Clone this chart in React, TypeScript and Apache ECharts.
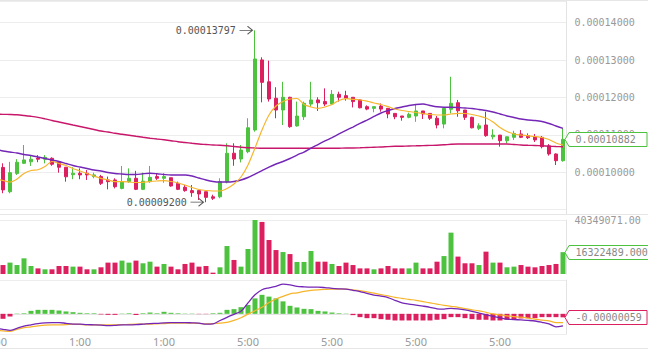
import { useEffect, useRef } from 'react';
import * as echarts from 'echarts';

// prices are in units of 1e-8
const UNIT = 1e-8;
const xLabels = ['5:00', '1:00', '1:00', '5:00', '5:00', '5:00', '5:00'];

const opens = [10050, 10130, 9480, 9970, 10240, 10280, 10380, 10350, 10375, 10265, 10135, 9935, 9975, 9975, 9885, 9885, 9795, 9795, 9570, 9750, 9840, 9545, 9750, 9885, 9840, 9855, 9705, 9600, 9510, 9510, 9480, 9345, 9345, 9750, 10510, 10355, 10550, 11130, 13005, 12420, 11980, 11665, 12005, 11240, 11485, 11825, 11935, 11890, 11825, 12085, 12050, 12005, 11935, 11755, 11710, 11770, 11710, 11575, 11505, 11470, 11505, 11640, 11575, 11445, 11290, 11685, 11860, 11665, 11470, 11175, 11265, 10950, 10995, 10845, 10935, 11025, 10980, 10950, 10935, 10710, 10490, 10310];
const closes = [10130, 9530, 9990, 10270, 10330, 10350, 10350, 10400, 10215, 10135, 9880, 9975, 9930, 9930, 9930, 9705, 9750, 9615, 9750, 9840, 9545, 9765, 9865, 9840, 9885, 9635, 9545, 9510, 9455, 9420, 9330, 9305, 9750, 10510, 10355, 10595, 11190, 13030, 12405, 11960, 11665, 12005, 11220, 11505, 11845, 11935, 11860, 11825, 12085, 12005, 11980, 11890, 11725, 11690, 11755, 11690, 11560, 11485, 11470, 11550, 11640, 11560, 11445, 11265, 11710, 11845, 11645, 11470, 11190, 11245, 10980, 10995, 10845, 10950, 11040, 10935, 10925, 10865, 10685, 10490, 10310, 10882];
const lows = [10000, 9440, 9440, 9930, 10220, 10170, 10270, 10240, 10175, 9990, 9750, 9815, 9815, 9795, 9840, 9660, 9545, 9570, 9545, 9720, 9525, 9525, 9720, 9795, 9720, 9615, 9525, 9480, 9345, 9260, 9200, 9260, 9305, 9705, 10175, 10265, 10510, 11085, 11870, 11890, 11445, 11265, 11190, 11220, 11400, 11755, 11640, 11770, 11800, 11890, 11915, 11735, 11710, 11660, 11605, 11620, 11445, 11420, 11380, 11445, 11350, 11425, 11400, 11175, 11175, 11575, 11485, 11400, 11175, 11130, 10950, 10880, 10685, 10775, 10865, 10915, 10890, 10810, 10640, 10445, 10195, 10285];
const highs = [10180, 10240, 10280, 10350, 10730, 10435, 10460, 10460, 10400, 10285, 10135, 10135, 10105, 10060, 9990, 9930, 9885, 9840, 10170, 10105, 10040, 9990, 10170, 9975, 9975, 9855, 9750, 9660, 9660, 9510, 9480, 9400, 9840, 10775, 10775, 10730, 11445, 13797, 13075, 12985, 12275, 12420, 12020, 11890, 11890, 12420, 12005, 12245, 12200, 12155, 12180, 12005, 11950, 11790, 11755, 11840, 11710, 11575, 11505, 11595, 11800, 11640, 11575, 11505, 11740, 12555, 11935, 11665, 11485, 11310, 11620, 11150, 10995, 10950, 11110, 11130, 11040, 11025, 10970, 10755, 10505, 11175];

const maShort = [9820, 9780, 9740, 9820, 9968, 10048, 10067, 10155, 10289, 10235, 10181, 10101, 10035, 9968, 9901, 9839, 9794, 9748, 9748, 9740, 9727, 9733, 9754, 9767, 9775, 9754, 9714, 9660, 9593, 9540, 9513, 9500, 9500, 9567, 9687, 9874, 10195, 10650, 11131, 11532, 11773, 11893, 11960, 11973, 11813, 11746, 11711, 11746, 11813, 11920, 11968, 11952, 11933, 11901, 11853, 11813, 11754, 11692, 11652, 11625, 11599, 11572, 11545, 11532, 11532, 11559, 11577, 11572, 11545, 11505, 11452, 11345, 11198, 11091, 11024, 10997, 10978, 10957, 10930, 10877, 10783, 10730];
const maMid = [10623, 10569, 10542, 10516, 10476, 10449, 10409, 10369, 10329, 10289, 10235, 10181, 10141, 10101, 10061, 10034, 9994, 9968, 9954, 9941, 9941, 9960, 9973, 9960, 9941, 9928, 9928, 9928, 9901, 9847, 9794, 9754, 9740, 9740, 9754, 9794, 9861, 9954, 10048, 10141, 10222, 10289, 10369, 10462, 10542, 10649, 10743, 10837, 10930, 11024, 11118, 11211, 11305, 11398, 11492, 11585, 11652, 11706, 11746, 11786, 11813, 11826, 11786, 11751, 11738, 11738, 11732, 11719, 11706, 11679, 11652, 11612, 11559, 11505, 11465, 11425, 11398, 11385, 11358, 11305, 11238, 11176];
const maLong = [11553, 11550, 11545, 11537, 11519, 11497, 11470, 11430, 11385, 11345, 11305, 11264, 11224, 11184, 11144, 11104, 11077, 11043, 11016, 10989, 10962, 10936, 10912, 10890, 10869, 10845, 10818, 10797, 10775, 10756, 10743, 10730, 10722, 10708, 10690, 10671, 10658, 10650, 10642, 10642, 10642, 10642, 10642, 10642, 10642, 10642, 10642, 10642, 10642, 10644, 10650, 10650, 10655, 10663, 10671, 10676, 10687, 10695, 10698, 10703, 10708, 10714, 10719, 10724, 10735, 10749, 10756, 10756, 10756, 10756, 10756, 10756, 10756, 10756, 10743, 10730, 10722, 10716, 10708, 10698, 10690, 10684];

const volumes = [5000000, 6700000, 8500000, 6700000, 11700000, 6000000, 4200000, 3500000, 3500000, 6000000, 6000000, 5500000, 5500000, 3500000, 3500000, 5000000, 8500000, 8500000, 10000000, 8500000, 10000000, 8000000, 9200000, 5500000, 7500000, 5500000, 3500000, 7500000, 8500000, 5500000, 6000000, 1000000, 5000000, 20900000, 10500000, 5500000, 18700000, 40349071, 38900000, 25400000, 17900000, 16400000, 14900000, 9000000, 9000000, 17200000, 9200000, 9200000, 7500000, 6000000, 8500000, 6700000, 4200000, 4200000, 3500000, 4200000, 6000000, 4200000, 4200000, 4200000, 8500000, 4200000, 4200000, 9200000, 13400000, 30900000, 13000000, 8000000, 8000000, 6700000, 16700000, 8500000, 8500000, 5000000, 5500000, 6700000, 5500000, 5000000, 6000000, 6700000, 7500000, 16322489];

const macdDif = [-244, -261, -278, -244, -207, -185, -165, -152, -147, -147, -160, -172, -174, -182, -185, -189, -199, -194, -185, -185, -182, -174, -165, -160, -152, -148, -147, -147, -152, -157, -174, -169, -113, -59, -8, 42, 185, 320, 405, 438, 464, 500, 489, 464, 455, 450, 450, 442, 430, 422, 416, 396, 376, 346, 317, 298, 275, 228, 185, 164, 148, 130, 110, 84, 79, 93, 84, 67, 42, 13, -17, -42, -67, -89, -98, -101, -110, -121, -143, -169, -219, -202];
const macdDea = [-275, -287, -298, -261, -233, -219, -202, -189, -185, -185, -182, -174, -179, -185, -185, -185, -185, -185, -182, -177, -174, -174, -174, -169, -165, -157, -157, -157, -157, -160, -169, -165, -157, -143, -110, -67, -5, 51, 112, 190, 250, 295, 337, 354, 379, 396, 405, 411, 416, 416, 416, 405, 391, 371, 349, 324, 303, 278, 261, 243, 228, 206, 185, 164, 143, 126, 110, 88, 67, 51, 25, 0, -17, -34, -46, -56, -72, -89, -106, -118, -147, -147];
const macdHist = [-60, -84, -45, 5, 10, 50, 67, 67, 67, 56, 40, 28, 17, 10, 10, -10, -17, -17, 5, 10, -20, 10, 22, 10, 34, 17, 10, 5, 5, -5, -5, 10, 17, 67, 79, 112, 150, 260, 320, 290, 260, 210, 135, 107, 84, 79, 50, 40, 22, 10, 5, -22, -56, -73, -73, -90, -100, -112, -112, -112, -112, -112, -112, -100, -90, -56, -56, -73, -90, -100, -100, -112, -112, -100, -90, -78, -73, -73, -56, -56, -56, -59];

const GREEN = '#4cc23f';
const RED = '#dc1f5f';
const ORANGE = '#f7b52c';
const PURPLE = '#7426b6';
const CRIMSON = '#c8176a';
const GRIDC = '#ededed';
const AXISC = '#e3e3e3';
const MONO = '"DejaVu Sans Mono", monospace';
const SANS = '"Noto Sans", sans-serif';

const W = 648;
const GL = -7.5;
const GR = 81.5;
const AXIS_X = W - GR;

export default function App() {
  const ref = useRef<HTMLDivElement>(null);
  useEffect(() => {
    const el = ref.current;
    if (!el) return;
    const chart = echarts.init(el, null, { renderer: 'svg' });
    const n = opens.length;
    const categories = opens.map((_, i) => (i % 12 === 0 ? xLabels[i / 12] : 'c' + i));
    const candle = opens.map((o, i) => [o * UNIT, closes[i] * UNIT, lows[i] * UNIT, highs[i] * UNIT]);
    const isUp = (i: number) => closes[i] >= opens[i];
    const volData = volumes.map((v, i) => ({ value: v, itemStyle: { color: isUp(i) ? GREEN : RED } }));
    const histData = macdHist.map((v) => ({ value: v * UNIT, itemStyle: { color: v >= 0 ? GREEN : RED } }));
    const volMax = Math.max(...volumes);
    const yMin = 0.00008885;
    const yMax = 0.0001458;
    const mMin = -0.0000034;
    const mMax = 0.0000057;

    const hiddenX = { show: false };
    const xBase = (gi: number) => ({
      type: 'category',
      gridIndex: gi,
      data: categories,
      boundaryGap: true,
      axisTick: { show: false },
      splitLine: { show: false },
    });
    const line = (data: number[], color: string, width: number, xi: number) => ({
      type: 'line',
      xAxisIndex: xi,
      yAxisIndex: xi,
      data: data.map((v) => v * UNIT),
      symbol: 'none',
      smooth: 0.3,
      lineStyle: { color, width },
      silent: true,
    });
    const gridBase = { left: GL, right: GR, outerBoundsMode: 'none', containLabel: false };

    chart.setOption({
      animation: false,
      grid: [
        { ...gridBase, top: 1, height: 213 },
        { ...gridBase, top: 220, height: 54 },
        { ...gridBase, top: 280, height: 54 },
      ],
      xAxis: [
        { ...xBase(0), axisLine: hiddenX, axisLabel: hiddenX },
        { ...xBase(1), axisLine: hiddenX, axisLabel: hiddenX },
        {
          ...xBase(2),
          axisLine: { show: true, lineStyle: { color: AXISC } },
          axisLabel: { interval: 11, color: '#999', fontSize: 11, fontFamily: SANS, margin: 2, hideOverlap: false },
        },
      ],
      yAxis: [
        {
          type: 'value',
          gridIndex: 0,
          position: 'right',
          min: yMin,
          max: yMax,
          splitNumber: 5,
          axisLine: { show: true, lineStyle: { color: AXISC } },
          axisTick: { show: false },
          splitLine: { show: true, lineStyle: { color: GRIDC } },
          axisLabel: {
            color: '#999',
            fontFamily: MONO,
            fontSize: 10,
            margin: 8,
            showMinLabel: false,
            showMaxLabel: false,
            formatter: (v: number) => (v > 0.0000995 && v < 0.0001405 ? v.toFixed(8) : ''),
          },
        },
        {
          type: 'value',
          gridIndex: 1,
          position: 'right',
          min: 0,
          max: volMax,
          interval: volMax,
          axisLine: { show: true, lineStyle: { color: AXISC } },
          axisTick: { show: false },
          splitLine: { show: true, lineStyle: { color: ['rgba(0,0,0,0)', GRIDC] } },
          axisLabel: {
            color: '#999',
            fontFamily: MONO,
            fontSize: 10,
            margin: 8,
            showMinLabel: false,
            formatter: (v: number) => (v > 0 ? v.toFixed(2) : ''),
          },
        },
        {
          type: 'value',
          gridIndex: 2,
          position: 'right',
          min: mMin,
          max: mMax,
          interval: mMax - mMin,
          axisLine: { show: true, lineStyle: { color: AXISC } },
          axisTick: { show: false },
          splitLine: { show: true, lineStyle: { color: GRIDC } },
          axisLabel: { show: false },
        },
      ],
      series: [
        {
          type: 'candlestick',
          xAxisIndex: 0,
          yAxisIndex: 0,
          data: candle,
          barWidth: 4,
          itemStyle: { color: GREEN, color0: RED, borderColor: GREEN, borderColor0: RED, borderWidth: 1 },
          markPoint: {
            symbol: 'path://M0 4 L13 4 M8 0 L13 4 L8 8',
            symbolSize: [13, 8],
            symbolOffset: [-9, 0],
            itemStyle: { color: 'rgba(0,0,0,0)', borderColor: '#555', borderWidth: 1 },
            label: {
              show: true,
              position: 'left',
              distance: 3,
              color: '#555',
              fontFamily: MONO,
              fontSize: 10,
              formatter: (p: any) => Number(p.value).toFixed(8),
            },
            data: [
              { type: 'max', valueDim: 'highest' },
              { type: 'min', valueDim: 'lowest' },
            ],
          },
        },
        line(maLong, CRIMSON, 1.4, 0),
        line(maMid, PURPLE, 1.4, 0),
        line(maShort, ORANGE, 1.2, 0),
        {
          type: 'bar',
          xAxisIndex: 1,
          yAxisIndex: 1,
          data: volData,
          barWidth: 5,
        },
        {
          type: 'bar',
          xAxisIndex: 2,
          yAxisIndex: 2,
          data: histData,
          barWidth: 5,
        },
        line(macdDea, ORANGE, 1.2, 2),
        line(macdDif, PURPLE, 1.3, 2),
      ],
    });

    const last = n - 1;
    const yMain = chart.convertToPixel({ yAxisIndex: 0 }, closes[last] * UNIT) as number;
    const yVol = chart.convertToPixel({ yAxisIndex: 1 }, volumes[last]) as number;
    const yMacd = chart.convertToPixel({ yAxisIndex: 2 }, macdHist[last] * UNIT) as number;

    const tag = (yy: number, text: string, color: string, right: number) => {
      const y = Math.round(yy) + 0.5;
      const tip = AXIS_X - 1.5;
      return {
        type: 'group',
        children: [
          {
            type: 'polygon',
            z: 100,
            shape: { points: [[tip, y], [tip + 4, y - 7], [right, y - 7], [right, y + 7], [tip + 4, y + 7]] },
            style: { fill: '#fff', stroke: color, lineWidth: 1 },
          },
          {
            type: 'text',
            z: 101,
            x: AXIS_X + 9,
            y,
            style: { text, fill: '#888', font: '10px ' + MONO, verticalAlign: 'middle', align: 'left' },
          },
        ],
      };
    };
    const sep = (y: number) => ({
      type: 'line',
      z: 50,
      shape: { x1: 0, y1: y, x2: W, y2: y },
      style: { stroke: '#e6e6e6', lineWidth: 1 },
    });

    chart.setOption({
      graphic: [
        sep(0.5),
        sep(214.5),
        sep(348.5),
        tag(yMain, (closes[last] * UNIT).toFixed(8), GREEN, 647),
        tag(yVol, volumes[last].toFixed(3), GREEN, 652),
        tag(yMacd, (macdHist[last] * UNIT).toFixed(8), RED, 647),
      ],
    });

    return () => chart.dispose();
  }, []);
  return <div ref={ref} style={{ position: 'absolute', left: 0, top: 0, width: 648, height: 353 }} />;
}
